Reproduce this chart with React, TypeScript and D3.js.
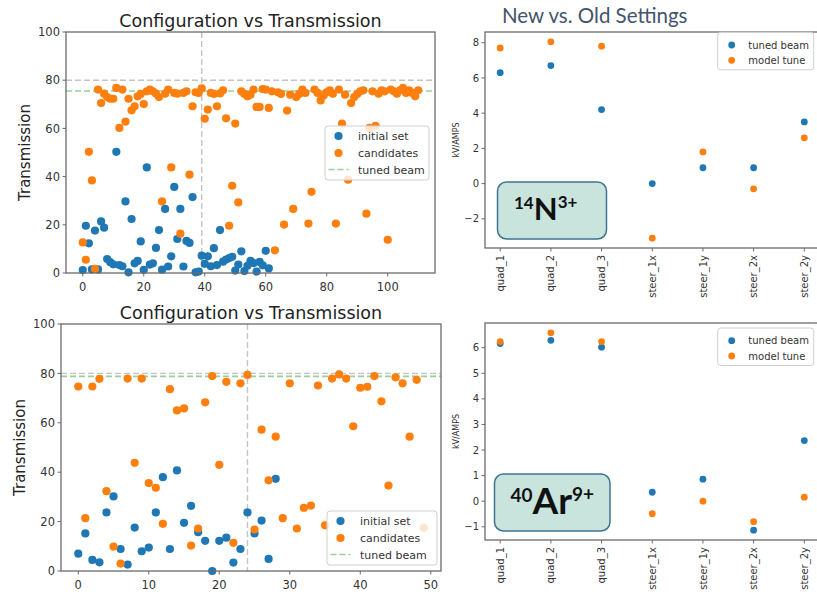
import React from 'react';
import * as d3 from 'd3';

// ---------- Data ----------
// Top-left: 14N3+ transmission scan
const tlInitial = [1.2, 19.6, 12.3, 1.5, 17.6, 1.5, 21.4, 18.8, 5.8, 4.5, 3.6, 50.3, 3.3, 2.8, 29.7, 0.3, 22.4, 4.0, 5.0, 13.1, 1.3, 43.8, 3.5, 4.0, 10.4, 17.8, 1.4, 26.6, 2.7, 6.9, 35.7, 14.1, 26.6, 2.7, 13.3, 12.5, 31.5, 0.3, 0.6, 7.2, 3.8, 6.9, 2.8, 10.3, 3.3, 17.8, 4.7, 5.6, 6.2, 6.7, 1.0, 3.5, 9.0, 0.8, 3.0, 5.0, 4.1, 0.6, 4.6, 3.2, 9.2, 1.9];
const tlCandidates = [12.7, 5.5, 50.3, 38.4, 1.7, 76.1, 70.5, 74.4, 73.0, 72.3, 72.3, 76.8, 60.2, 76.1, 62.8, 72.3, 67.5, 69.2, 73.3, 74.3, 70.1, 75.4, 76.1, 75.4, 74.4, 73.0, 29.7, 74.4, 76.1, 43.8, 74.7, 74.4, 16.3, 74.7, 75.4, 40.8, 69.2, 75.0, 74.7, 76.6, 64.0, 67.8, 74.7, 74.3, 69.2, 74.5, 75.8, 64.2, 19.6, 36.2, 62.0, 29.3, 75.4, 74.3, 73.3, 74.0, 76.1, 68.9, 68.9, 76.3, 76.1, 68.5, 75.4, 9.4, 75.0, 74.3, 20.1, 67.4, 74.0, 26.6, 73.0, 74.3, 76.1, 74.7, 20.5, 33.7, 76.1, 74.7, 71.6, 73.7, 75.0, 75.8, 74.4, 20.5, 76.1, 62.0, 74.0, 38.7, 70.5, 73.0, 74.3, 75.4, 75.8, 24.6, 60.2, 75.4, 61.1, 74.4, 75.8, 75.4, 13.8, 76.1, 75.4, 74.4, 75.8, 76.8, 74.7, 75.8, 74.7, 73.3, 75.8];
const tlTuned = 75.5;
const tlBest = 39;

// Bottom-left: 40Ar9+ transmission scan
const blInitial = [7.0, 15.2, 4.5, 3.5, 23.7, 30.2, 8.9, 2.6, 17.6, 8.0, 9.5, 23.7, 38.0, 8.9, 40.7, 19.5, 26.4, 15.7, 12.2, 0, 12.2, 13.5, 3.4, 8.9, 23.7, 15.2, 20.4, 4.9, 37.3];
const blCandidates = [74.7, 21.4, 74.7, 77.8, 32.3, 9.9, 3.0, 77.9, 43.8, 77.9, 35.6, 33.7, 19.1, 73.6, 65.0, 65.8, 10.3, 17.2, 68.3, 78.9, 43.0, 76.6, 11.4, 76.0, 79.4, 16.8, 57.2, 36.7, 54.4, 21.4, 76.0, 17.2, 25.6, 26.5, 75.1, 18.5, 77.9, 79.6, 77.9, 58.6, 74.2, 74.6, 78.9, 68.7, 34.6, 78.4, 76.0, 54.4, 77.4, 17.5];
const blTuned = 78.8;
const blBest = 24;

const refLine = 80;
const transTicksY = [0, 20, 40, 60, 80, 100];
const tlTicksX = [0, 20, 40, 60, 80, 100];
const blTicksX = [0, 10, 20, 30, 40, 50];

// Right: settings comparison
const settings = ['quad_1', 'quad_2', 'quad_3', 'steer_1x', 'steer_1y', 'steer_2x', 'steer_2y'];
const nTuned = [6.3, 6.7, 4.2, 0.0, 0.9, 0.9, 3.5];
const nModel = [7.7, 8.05, 7.8, -3.1, 1.8, -0.3, 2.6];
const arTuned = [6.16, 6.29, 6.02, 0.35, 0.86, -1.13, 2.37];
const arModel = [6.24, 6.58, 6.24, -0.49, 0.0, -0.8, 0.16];
const nTicksY = [-2, 0, 2, 4, 6, 8];
const arTicksY = [-1, 0, 1, 2, 3, 4, 5, 6];

// ---------- Styles ----------
const BLUE = '#1f77b4';
const ORANGE = '#ff7f0e';
const FONT = 'DejaVu Sans, sans-serif';
const SPINE = '#6b6b6b';
const TXT = '#333';

type TransProps = {
  box: { x0: number; x1: number; y0: number; y1: number };
  initial: number[];
  cands: number[];
  tuned: number;
  best: number;
  ticksX: number[];
  legend: { x: number; y: number; w: number; h: number };
  ylabelX: number;
};

function TransPanel({ box, initial, cands, tuned, best, ticksX, legend, ylabelX }: TransProps) {
  const n = cands.length - 1;
  const x = d3.scaleLinear().domain([-0.05 * n, 1.05 * n]).range([box.x0, box.x1]);
  const y = d3.scaleLinear().domain([0, 100]).range([box.y1, box.y0]);
  const r = 4.1;
  const lx = legend.x, ly = legend.y;
  const rows = [ly + 10, ly + 27, ly + 43.5];
  return (
    <g>
      <text x={(box.x0 + box.x1) / 2} y={box.y0 - 5.5} textAnchor="middle" fontFamily={FONT} fontSize={17.5} fill="#222">
        Configuration vs Transmission
      </text>
      <text transform={`translate(${ylabelX},${(box.y0 + box.y1) / 2}) rotate(-90)`} textAnchor="middle" fontFamily={FONT} fontSize={15} fill="#222">
        Transmission
      </text>
      {/* reference lines */}
      <line x1={box.x0} x2={box.x1} y1={y(refLine)} y2={y(refLine)} stroke="#c4c4c4" strokeWidth={1.4} strokeDasharray="6,3" />
      <line x1={box.x0} x2={box.x1} y1={y(tuned)} y2={y(tuned)} stroke="#98d098" strokeWidth={1.6} strokeDasharray="6,3" />
      <line x1={x(best)} x2={x(best)} y1={box.y0} y2={box.y1} stroke="#c4c4c4" strokeWidth={1.4} strokeDasharray="6,3" />
      {initial.map((v, i) => (
        <circle key={'i' + i} cx={x(i)} cy={y(v)} r={r} fill={BLUE} />
      ))}
      {cands.map((v, i) => (
        <circle key={'c' + i} cx={x(i)} cy={y(v)} r={r} fill={ORANGE} />
      ))}
      {/* axes */}
      <rect x={box.x0} y={box.y0} width={box.x1 - box.x0} height={box.y1 - box.y0} fill="none" stroke={SPINE} strokeWidth={1.3} />
      {transTicksY.map((t) => (
        <g key={'yt' + t}>
          <line x1={box.x0 - 3.5} x2={box.x0} y1={y(t)} y2={y(t)} stroke={SPINE} />
          <text x={box.x0 - 6} y={y(t) + 4.2} textAnchor="end" fontFamily={FONT} fontSize={11.5} fill={TXT}>{t}</text>
        </g>
      ))}
      {ticksX.map((t) => (
        <g key={'xt' + t}>
          <line x1={x(t)} x2={x(t)} y1={box.y1} y2={box.y1 + 3.5} stroke={SPINE} />
          <text x={x(t)} y={box.y1 + 18} textAnchor="middle" fontFamily={FONT} fontSize={11.5} fill={TXT}>{t}</text>
        </g>
      ))}
      {/* legend */}
      <rect x={lx} y={ly} width={legend.w} height={legend.h} rx={3} fill="white" fillOpacity={0.8} stroke="#d0d0d0" />
      <circle cx={lx + 13.5} cy={rows[0]} r={r} fill={BLUE} />
      <circle cx={lx + 13.5} cy={rows[1]} r={r} fill={ORANGE} />
      <line x1={lx + 3.5} x2={lx + 23.5} y1={rows[2]} y2={rows[2]} stroke="#98d098" strokeWidth={1.6} strokeDasharray="6,3" />
      {['initial set', 'candidates', 'tuned beam'].map((s, i) => (
        <text key={s} x={lx + 33} y={rows[i] + 4} fontFamily={FONT} fontSize={11} fill={TXT}>{s}</text>
      ))}
    </g>
  );
}

type SetProps = {
  box: { x0: number; x1: number; y0: number; y1: number };
  tuned: number[];
  model: number[];
  ticksY: number[];
  legendY: number;
};

function SettingsPanel({ box, tuned, model, ticksY, legendY }: SetProps) {
  const x = d3.scaleLinear().domain([-0.3, settings.length - 1 + 0.3]).range([box.x0, box.x1]);
  const ext = d3.extent([...tuned, ...model]) as [number, number];
  const pad = (ext[1] - ext[0]) * 0.05;
  const y = d3.scaleLinear().domain([ext[0] - pad, ext[1] + pad]).range([box.y1, box.y0]);
  const r = 3.4;
  const lx = 717.7;
  return (
    <g>
      {tuned.map((v, i) => (
        <circle key={'t' + i} cx={x(i)} cy={y(v)} r={r} fill={BLUE} />
      ))}
      {model.map((v, i) => (
        <circle key={'m' + i} cx={x(i)} cy={y(v)} r={r} fill={ORANGE} />
      ))}
      <rect x={box.x0} y={box.y0} width={box.x1 - box.x0} height={box.y1 - box.y0} fill="none" stroke={SPINE} strokeWidth={1.3} />
      {ticksY.map((t) => (
        <g key={'y' + t}>
          <line x1={box.x0 - 3.5} x2={box.x0} y1={y(t)} y2={y(t)} stroke={SPINE} />
          <text x={box.x0 - 6} y={y(t) + 3.6} textAnchor="end" fontFamily={FONT} fontSize={10} fill={TXT}>{t < 0 ? '\u2212' + Math.abs(t) : t}</text>
        </g>
      ))}
      {settings.map((s, i) => (
        <g key={s}>
          <line x1={x(i)} x2={x(i)} y1={box.y1} y2={box.y1 + 3.5} stroke={SPINE} />
          <text transform={`translate(${x(i) + 3.6},${box.y1 + 7}) rotate(-90)`} textAnchor="end" fontFamily={FONT} fontSize={10} fill={TXT}>{s}</text>
        </g>
      ))}
      <text transform={`translate(${459},${(box.y0 + box.y1) / 2}) rotate(-90)`} textAnchor="middle" fontFamily={FONT} fontSize={8} fill={TXT}>kV/AMPS</text>
      <rect x={lx} y={legendY} width={96} height={37.5} rx={3} fill="white" fillOpacity={0.8} stroke="#d0d0d0" />
      <circle cx={731.7} cy={legendY + 12.7} r={r} fill={BLUE} />
      <circle cx={731.7} cy={legendY + 28} r={r} fill={ORANGE} />
      <text x={748.3} y={legendY + 16.3} fontFamily={FONT} fontSize={10} fill={TXT}>tuned beam</text>
      <text x={748.3} y={legendY + 31.6} fontFamily={FONT} fontSize={10} fill={TXT}>model tune</text>
    </g>
  );
}

export default function App() {
  return (
    <svg width={817} height={596} style={{ position: 'absolute', left: 0, top: 0, background: 'white' }}>
      <rect x={0} y={0} width={817} height={596} fill="white" />
      <TransPanel
        box={{ x0: 66, x1: 435, y0: 32, y1: 273 }}
        initial={tlInitial}
        cands={tlCandidates}
        tuned={tlTuned}
        best={tlBest}
        ticksX={tlTicksX}
        legend={{ x: 325, y: 126, w: 104, h: 54 }}
        ylabelX={30}
      />
      <TransPanel
        box={{ x0: 61, x1: 441, y0: 324, y1: 571 }}
        initial={blInitial}
        cands={blCandidates}
        tuned={blTuned}
        best={blBest}
        ticksX={blTicksX}
        legend={{ x: 327, y: 511, w: 110, h: 54 }}
        ylabelX={25}
      />
      <text x={502} y={23} fontFamily="Lato, sans-serif" fontSize={20.5} fill="#44546a">New vs. Old Settings</text>
      <SettingsPanel box={{ x0: 485, x1: 819.5, y0: 32, y1: 248 }} tuned={nTuned} model={nModel} ticksY={nTicksY} legendY={32.3} />
      <SettingsPanel box={{ x0: 485, x1: 819.5, y0: 323, y1: 540 }} tuned={arTuned} model={arModel} ticksY={arTicksY} legendY={328} />
      {/* ion labels */}
      <rect x={497.5} y={182} width={109} height={57} rx={9} fill="#c8e4dc" stroke="#3f7391" strokeWidth={1.5} />
      <text x={514} y={220} fontFamily="Lato, sans-serif" fontWeight="bold" fill="#111">
        <tspan fontSize={17} dy={-11}>14</tspan>
        <tspan fontSize={31} dy={11}>N</tspan>
        <tspan fontSize={17} dy={-12}>3+</tspan>
      </text>
      <rect x={494.5} y={474} width={115.5} height={57} rx={9} fill="#c8e4dc" stroke="#3f7391" strokeWidth={1.5} />
      <text x={510.5} y={513.5} fontFamily="Lato, sans-serif" fontWeight="bold" fill="#111">
        <tspan fontSize={19} dy={-12}>40</tspan>
        <tspan fontSize={37} dy={12}>Ar</tspan>
        <tspan fontSize={19} dy={-13}>9+</tspan>
      </text>
    </svg>
  );
}
